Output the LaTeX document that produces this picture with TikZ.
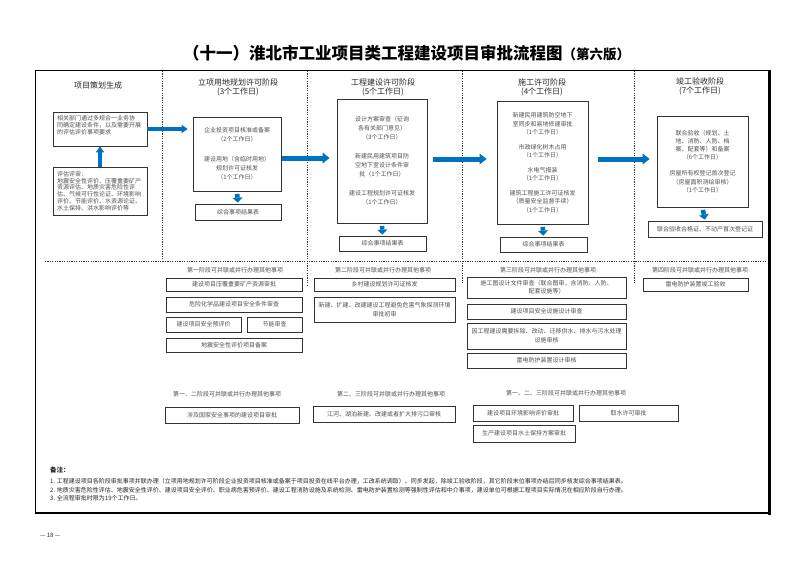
\documentclass[tikz,border=0pt]{standalone}
\usepackage{fontspec}
\setmainfont{Noto Sans CJK SC}
\usetikzlibrary{arrows.meta}
\definecolor{arrowblue}{HTML}{0070C0}
\definecolor{txt}{HTML}{505050}
\tikzset{
 box/.style={draw=black!80, line width=0.8pt, inner sep=0pt, align=center, text=txt, font=\fontsize{6}{9}\selectfont},
 colhead/.style={text=black!85, align=center, font=\fontsize{8}{9.5}\selectfont, inner sep=0pt},
 subhead/.style={text=txt, font=\fontsize{6}{7}\selectfont, inner sep=0pt},
 notetext/.style={anchor=west, text=black!85, font=\fontsize{6}{7}\selectfont, inner sep=0pt},
 harrow/.style={draw=arrowblue, line width=5pt, -{Triangle[length=7pt,width=11pt,line width=0pt]}},
 tarrow/.style={draw=arrowblue, line width=3.6pt, -{Triangle[length=6pt,width=8.5pt,line width=0pt]}},
 darrow/.style={draw=arrowblue, line width=4.5pt, -{Triangle[length=5pt,width=10pt,line width=0pt]}},
 divider/.style={draw=black!80, line width=0.6pt, dash pattern=on 1.2pt off 1.2pt},
}
% [options]{name}{x1}{y1}{x2}{y2}{text}
\newcommand\bx[7][]{\node[box,minimum width=\dimexpr#5pt-#3pt\relax,minimum height=\dimexpr#6pt-#4pt\relax,text width=\dimexpr#5pt-#3pt-4pt\relax,#1] (#2) at ({(#3+#5)/2},{(#4+#6)/2}) {#7};}
\begin{document}
\begin{tikzpicture}[x={(1pt,0pt)},y={(0pt,-1pt)}]
\useasboundingbox (0,0) rectangle (800,565);
\fill[white] (0,0) rectangle (800,565);

% title
\node[anchor=west, inner sep=0pt, font=\bfseries\fontsize{16.5}{16.5}\selectfont] (title) at (183,53) {（十一）淮北市工业项目类工程建设项目审批流程图{\fontsize{13.5}{13.5}\selectfont （第六版）}};

% frame
\draw[line width=1pt] (35,70) rectangle (769,513);
\draw[line width=3pt] (769,69.5) -- (769,514.5);
\draw[line width=2.2pt] (34.5,513) -- (770.5,513);

% dividers
\draw[divider] (162,71) -- (162,261);
\draw[divider] (307,71) -- (307,285);
\draw[divider] (462,71) -- (462,283);
\draw[divider] (634,71) -- (634,283);
\draw[divider] (45,261) -- (766,261);

% column headers
\node[colhead] (h1) at (98,85) {项目策划生成};
\node[colhead] (h2) at (238,87.5) {立项用地规划许可阶段\\(3个工作日)};
\node[colhead] (h3) at (383,87.5) {工程建设许可阶段\\(5个工作日)};
\node[colhead] (h4) at (542,87.5) {施工许可阶段\\(4个工作日)};
\node[colhead] (h5) at (700,86.5) {竣工验收阶段\\(7个工作日)};

% column 1
\bx{A}{53}{112}{147}{146}{}
\node[anchor=north west, inner sep=0pt, align=left, text=txt, font=\fontsize{6}{7}\selectfont] (Atext) at (57,115.5) {相关部门通过多规合一业务协\\同确定建设条件，以及需要开展\\的评估评价事项要求};
\bx[align=left,text width=86pt,font=\fontsize{6}{6.8}\selectfont]{B}{53}{167}{147}{215}{评估评审：\\地震安全性评价、压覆重要矿产\\资源评估、地质灾害危险性评\\估、气候可行性论证、环境影响\\评价、节能评价、水资源论证、\\水土保持、洪水影响评价等}

% column 2
\bx{C}{193}{117}{281}{191}{企业投资项目核准或备案\\（2个工作日）\\[11pt]建设用地（含临时用地）\\规划许可证核发\\（1个工作日）}
\bx{R1}{195}{204}{281}{220}{综合事项结果表}

% column 3
\bx{D}{337}{99}{427}{223}{设计方案审查（征询\\各有关部门意见）\\（3个工作日）\\[10pt]新建民用建筑项目防\\空地下室设计条件审\\批（1个工作日）\\[10pt]建设工程规划许可证核发\\（1个工作日）}
\bx{R2}{339}{236}{426}{251}{综合事项结果表}

% column 4
\bx[font=\fontsize{6}{8.5}\selectfont]{E}{497}{101}{588}{224}{新建民用建筑防空地下\\室同步和易地修建审批\\（1个工作日）\\[6pt]市政绿化树木占用\\（1个工作日）\\[6pt]水电气报装\\（1个工作日）\\[6pt]建筑工程施工许可证核发\\（质量安全监督手续）\\（1个工作日）}
\bx{R3}{500}{237}{587}{252}{综合事项结果表}

% column 5
\bx[font=\fontsize{6}{8.2}\selectfont]{F}{657}{116}{748}{207}{联合验收（规划、土\\地、消防、人防、档\\案、配套等）和备案\\（6个工作日）\\[8pt]房屋所有权登记首次登记\\（房屋面积测绘审核）\\（1个工作日）}
\bx{R4}{648}{221}{762}{237}{联合验收合格证、不动产首次登记证}

% main arrows
\draw[tarrow] (B.north) -- (A.south);
\draw[tarrow, shorten >=5pt] (A.east) -- (A.east -| C.west);
\draw[harrow, shorten <=1pt, shorten >=7pt] ([yshift=-4pt]C.east) -- ([yshift=-4pt]C.east -| D.west);
\draw[harrow, shorten <=6pt, shorten >=10pt] ([yshift=2pt]D.east) -- ([yshift=2pt]D.east -| E.west);
\draw[harrow, shorten <=10pt, shorten >=7pt] ([yshift=3.5pt]E.east) -- ([yshift=3.5pt]E.east -| F.west);
\draw[darrow, shorten <=2.5pt, shorten >=1pt] (C.south) -- (R1.north);
\draw[darrow, shorten <=2.5pt, shorten >=1pt] (D.south) -- (R2.north);
\draw[darrow, shorten <=2.5pt, shorten >=1pt] (E.south) -- (R3.north);
\draw[darrow, shorten <=2.5pt, shorten >=1pt] (F.south) -- (R4.north);

% lower section, row 2
\node[subhead] (g1h) at (235,270) {第一阶段可并联或并行办理其他事项};
\bx{g1a}{166}{278}{302}{291}{建设项目压覆重要矿产资源审批}
\bx{g1b}{166}{297}{302}{312}{危险化学品建设项目安全条件审查}
\bx{g1c}{166}{317}{241}{332}{建设项目安全预评价}
\bx{g1d}{247}{317}{302}{332}{节能审查}
\bx{g1e}{166}{338}{302}{352}{地震安全性评价项目备案}

\node[subhead] (g2h) at (383,270) {第二阶段可并联或并行办理其他事项};
\bx{g2a}{314}{278}{455}{291}{乡村建设规划许可证核发}
\bx{g2b}{314}{297}{455}{322}{新建、扩建、改建建设工程避免危害气象探测环境\\审批初审}

\node[subhead] (g3h) at (548,270) {第三阶段可并联或并行办理其他事项};
\bx[font=\fontsize{6}{8}\selectfont]{g3a}{467}{277}{626}{298}{施工图设计文件审查（联合图审，含消防、人防、\\配套设施等）}
\bx{g3b}{467}{304}{626}{319}{建设项目安全设施设计审查}
\bx{g3c}{467}{323}{626}{349}{因工程建设需要拆除、改动、迁移供水、排水与污水处理\\设施审核}
\bx{g3d}{467}{353}{626}{368}{雷电防护装置设计审核}

\node[subhead] (g4h) at (700,270) {第四阶段可并联或并行办理其他事项};
\bx{g4a}{643}{278}{748}{291}{雷电防护装置竣工验收}

% row 3
\node[subhead] (g5h) at (227,394) {第一、二阶段可并联或并行办理其他事项};
\bx{g5a}{165}{407}{299}{423}{涉及国家安全事项的建设项目审批}
\node[subhead] (g6h) at (391,394) {第二、三阶段可并联或并行办理其他事项};
\bx{g6a}{313}{406}{455}{422}{江河、湖泊新建、改建或者扩大排污口审核}
\node[subhead] (g7h) at (566,393) {第一、二、三阶段可并联或并行办理其他事项};
\bx{g7a}{473}{405}{573}{421}{建设项目环境影响评价审批}
\bx{g7b}{579}{405}{678}{421}{取水许可审批}
\bx{g7c}{473}{425}{575}{442}{生产建设项目水土保持方案审批}

% notes
\node[notetext, font=\bfseries\fontsize{6.5}{7}\selectfont] (nt) at (50,470) {备注：};
\node[notetext] (n1) at (50,481.5) {1. 工程建设项目各阶段审批事项并联办理（立项用地规划许可阶段企业投资项目核准或备案于项目投资在线平台办理，工改系统调取）、同步发起，除竣工验收阶段，其它阶段末位事项办结后同步核发综合事项结果表。};
\node[notetext] (n2) at (50,490) {2. 地质灾害危险性评估、地震安全性评价、建设项目安全评价、职业病危害预评价、建设工程消防设施及系统检测、雷电防护装置检测等强制性评估和中介事项，建设单位可根据工程项目实际情况在相应阶段自行办理。};
\node[notetext] (n3) at (50,498.5) {3. 全流程审批时限为19个工作日。};

\node[notetext] (pg) at (40,535) {— 18 —};
\end{tikzpicture}
\end{document}
